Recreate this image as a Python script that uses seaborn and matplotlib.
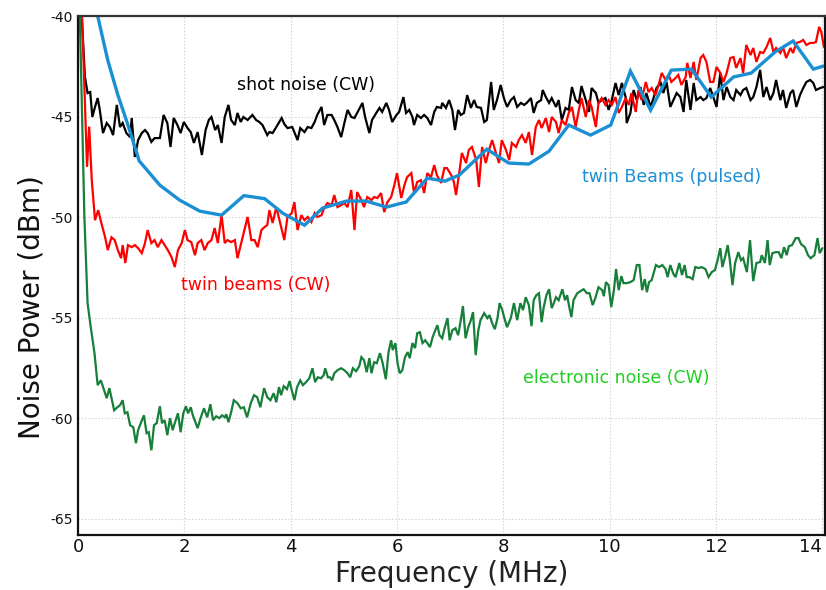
import numpy as np
import pandas as pd
import matplotlib
matplotlib.use("Agg")
import matplotlib.pyplot as plt
import seaborn as sns

# ---------------- data ----------------
shot_x = [0.06, 0.13, 0.18, 0.23, 0.27, 0.32, 0.37, 0.41, 0.47, 0.54, 0.60, 0.66, 0.73, 0.79, 0.84, 0.91, 0.98, 1.01,
          1.07, 1.13, 1.20, 1.26, 1.31, 1.38, 1.44, 1.54, 1.61, 1.68, 1.74, 1.80, 1.87, 1.93, 1.99, 2.06, 2.12, 2.18,
          2.25, 2.33, 2.40, 2.46, 2.51, 2.58, 2.63, 2.70, 2.76, 2.83, 2.88, 2.95, 3.00, 3.06, 3.11, 3.19, 3.28, 3.35,
          3.41, 3.47, 3.56, 3.60, 3.66, 3.73, 3.83, 3.88, 3.94, 4.03, 4.13, 4.18, 4.26, 4.32, 4.39, 4.45, 4.50, 4.58,
          4.63, 4.69, 4.77, 4.82, 4.88, 4.95, 5.01, 5.07, 5.14, 5.20, 5.25, 5.35, 5.40, 5.48, 5.53, 5.61, 5.67, 5.72,
          5.80, 5.85, 5.91, 5.99, 6.04, 6.12, 6.17, 6.23, 6.29, 6.32, 6.38, 6.45, 6.51, 6.57, 6.64, 6.70, 6.75, 6.83,
          6.85, 6.92, 6.98, 7.04, 7.09, 7.15, 7.20, 7.26, 7.32, 7.39, 7.45, 7.50, 7.58, 7.64, 7.69, 7.77, 7.82, 7.88,
          7.95, 8.01, 8.07, 8.14, 8.20, 8.26, 8.33, 8.39, 8.44, 8.52, 8.57, 8.63, 8.71, 8.74, 8.80, 8.86, 8.91, 8.99,
          9.04, 9.10, 9.17, 9.23, 9.29, 9.36, 9.42, 9.47, 9.55, 9.61, 9.66, 9.74, 9.79, 9.85, 9.92, 9.98, 10.04, 10.11,
          10.17, 10.23, 10.30, 10.32, 10.39, 10.45, 10.51, 10.58, 10.64, 10.69, 10.77, 10.83, 10.88, 10.96, 11.01,
          11.07, 11.14, 11.20, 11.26, 11.33, 11.39, 11.44, 11.52, 11.58, 11.63, 11.71, 11.76, 11.82, 11.89, 11.95,
          12.01, 12.08, 12.14, 12.20, 12.27, 12.33, 12.38, 12.46, 12.51, 12.57, 12.65, 12.70, 12.76, 12.83, 12.89,
          12.95, 13.02, 13.08, 13.13, 13.21, 13.26, 13.32, 13.40, 13.45, 13.51, 13.58, 13.64, 13.70, 13.77, 13.83,
          13.88, 13.96, 14.02]
shot_y = [-39.5, -43.03, -43.83, -43.78, -45.02, -44.52, -44.08, -44.67, -45.82, -45.32, -45.52, -45.92, -44.42,
          -45.52, -45.32, -45.82, -46.02, -45.07, -47.01, -46.17, -45.82, -45.67, -45.82, -46.26, -46.07, -46.07,
          -44.92, -45.32, -46.51, -45.07, -45.42, -45.82, -45.27, -45.57, -45.77, -46.31, -45.77, -46.91, -45.67,
          -45.17, -45.02, -45.67, -45.42, -46.31, -45.02, -44.42, -45.17, -45.42, -44.82, -45.27, -45.02, -45.17,
          -44.92, -45.17, -45.27, -45.42, -45.92, -45.77, -45.82, -45.52, -45.07, -45.37, -45.57, -45.52, -46.17,
          -45.57, -45.77, -45.52, -45.57, -45.27, -44.92, -44.52, -45.42, -44.92, -44.92, -45.17, -45.52, -46.02,
          -45.32, -44.67, -45.02, -45.07, -44.82, -44.32, -45.02, -45.82, -45.17, -44.82, -44.57, -44.77, -44.32,
          -44.67, -45.27, -44.92, -44.77, -44.03, -44.82, -44.67, -45.02, -45.42, -44.92, -45.07, -44.92, -45.07,
          -45.42, -44.77, -44.52, -44.57, -44.32, -44.57, -44.18, -44.67, -45.67, -44.67, -44.92, -44.82, -43.93,
          -44.57, -44.18, -44.52, -44.57, -45.27, -45.17, -43.28, -44.67, -44.18, -43.43, -44.08, -44.52, -44.18,
          -44.03, -44.52, -44.32, -44.42, -44.32, -44.08, -44.82, -44.32, -44.18, -43.68, -44.03, -44.32, -44.08,
          -44.52, -44.18, -45.17, -44.57, -44.67, -43.53, -44.18, -44.32, -43.48, -44.18, -44.77, -43.58, -43.83,
          -44.32, -44.18, -44.08, -44.67, -44.18, -43.33, -43.93, -43.33, -44.03, -45.32, -44.82, -43.68, -44.18,
          -43.53, -44.42, -43.83, -44.52, -44.03, -43.58, -43.33, -43.83, -43.28, -44.52, -44.18, -43.83, -44.03,
          -44.77, -43.18, -44.67, -43.33, -44.18, -44.03, -44.18, -44.08, -43.58, -44.03, -44.52, -42.83, -44.18,
          -43.53, -44.03, -44.18, -43.68, -43.93, -43.68, -43.58, -44.18, -44.03, -43.53, -42.68, -44.03, -43.53,
          -44.18, -43.83, -43.18, -44.18, -43.68, -44.57, -43.83, -43.68, -44.52, -43.93, -43.58, -43.28, -43.18,
          -43.33, -43.68, -43.58, -43.53]

twin_x = [0.07, 0.17, 0.21, 0.26, 0.32, 0.38, 0.44, 0.51, 0.56, 0.63, 0.69, 0.75, 0.81, 0.84, 0.89, 0.94, 1.01, 1.07,
          1.13, 1.20, 1.26, 1.31, 1.38, 1.44, 1.50, 1.57, 1.63, 1.69, 1.76, 1.82, 1.88, 1.95, 2.01, 2.06, 2.13, 2.20,
          2.25, 2.32, 2.38, 2.44, 2.51, 2.57, 2.63, 2.70, 2.76, 2.81, 2.88, 2.95, 3.00, 3.07, 3.13, 3.19, 3.26, 3.32,
          3.38, 3.45, 3.51, 3.56, 3.60, 3.66, 3.73, 3.79, 3.88, 3.94, 4.02, 4.07, 4.13, 4.20, 4.26, 4.32, 4.39, 4.45,
          4.50, 4.58, 4.63, 4.69, 4.77, 4.82, 4.88, 4.95, 5.01, 5.07, 5.14, 5.20, 5.25, 5.33, 5.38, 5.44, 5.52, 5.57,
          5.63, 5.70, 5.76, 5.82, 5.89, 5.95, 6.00, 6.08, 6.14, 6.19, 6.27, 6.32, 6.38, 6.45, 6.51, 6.57, 6.64, 6.70,
          6.75, 6.83, 6.89, 6.94, 7.02, 7.07, 7.11, 7.17, 7.22, 7.30, 7.35, 7.41, 7.49, 7.54, 7.60, 7.67, 7.73, 7.79,
          7.86, 7.92, 7.97, 8.05, 8.11, 8.16, 8.24, 8.29, 8.35, 8.42, 8.48, 8.54, 8.61, 8.67, 8.72, 8.80, 8.86, 8.91,
          8.99, 9.04, 9.10, 9.17, 9.23, 9.29, 9.36, 9.42, 9.47, 9.55, 9.61, 9.66, 9.74, 9.79, 9.85, 9.92, 9.98, 10.04,
          10.11, 10.17, 10.23, 10.30, 10.36, 10.41, 10.49, 10.54, 10.60, 10.68, 10.73, 10.79, 10.86, 10.92, 10.98,
          11.05, 11.11, 11.16, 11.24, 11.29, 11.35, 11.43, 11.46, 11.52, 11.58, 11.63, 11.71, 11.76, 11.82, 11.89,
          11.95, 12.01, 12.08, 12.14, 12.20, 12.27, 12.33, 12.38, 12.46, 12.51, 12.57, 12.65, 12.70, 12.76, 12.83,
          12.89, 12.95, 13.02, 13.08, 13.13, 13.21, 13.26, 13.32, 13.40, 13.45, 13.51, 13.58, 13.64, 13.70, 13.77,
          13.83, 13.88, 13.94, 13.98, 14.03]
twin_y = [-39.5, -47.5, -45.5, -48.2, -50.15, -49.65, -50.30, -51.0, -51.64, -51.0, -51.14, -51.64, -52.04, -51.39,
          -52.28, -51.39, -51.49, -51.39, -51.54, -51.79, -51.29, -50.64, -51.29, -51.14, -51.49, -51.14, -51.39,
          -51.64, -51.99, -52.48, -51.64, -51.29, -50.64, -51.14, -51.24, -51.89, -51.29, -51.14, -51.64, -51.29,
          -51.14, -50.54, -51.29, -49.90, -51.29, -51.14, -51.24, -51.14, -52.04, -51.29, -50.64, -49.99, -51.14,
          -51.14, -51.49, -50.64, -50.49, -50.39, -49.65, -50.29, -49.50, -50.15, -51.14, -49.99, -49.80, -49.25,
          -50.64, -49.90, -50.15, -49.99, -50.24, -49.80, -49.99, -49.90, -49.55, -49.30, -49.40, -48.90, -49.50,
          -49.40, -49.30, -49.50, -48.65, -50.64, -48.75, -49.15, -49.50, -49.00, -49.15, -49.00, -49.05, -48.80,
          -49.75, -49.25, -49.00, -48.40, -47.81, -49.05, -48.40, -48.01, -47.81, -48.80, -48.25, -48.16, -48.80,
          -47.81, -48.01, -47.41, -47.91, -48.30, -47.56, -47.56, -47.91, -48.25, -48.90, -47.81, -46.81, -47.31,
          -46.66, -46.51, -47.16, -48.50, -46.51, -47.31, -46.66, -46.17, -46.81, -47.31, -46.17, -46.66, -47.16,
          -46.31, -46.51, -46.17, -45.92, -46.31, -45.77, -46.91, -45.52, -45.17, -45.57, -45.07, -45.77, -45.02,
          -45.27, -45.82, -45.17, -45.42, -44.82, -44.52, -45.52, -44.67, -44.08, -45.02, -44.18, -44.52, -45.52,
          -44.32, -44.08, -44.42, -44.18, -44.42, -44.03, -44.82, -44.52, -44.08, -44.42, -43.83, -44.77, -43.68,
          -44.18, -43.28, -43.78, -43.58, -43.93, -43.43, -42.83, -43.18, -42.93, -43.28, -43.08, -42.93, -43.43,
          -43.03, -42.33, -43.08, -42.28, -43.18, -42.09, -41.94, -42.28, -43.28, -43.28, -42.53, -42.83, -43.28,
          -42.83, -42.09, -42.04, -42.58, -42.09, -42.83, -41.44, -41.94, -41.59, -42.28, -41.79, -41.84, -41.54,
          -41.09, -41.79, -41.59, -41.84, -41.54, -42.09, -41.59, -41.84, -41.34, -41.29, -41.19, -41.44, -41.34,
          -41.34, -41.29, -40.54, -40.79, -41.54]

pulsed_x = [0.37, 0.56, 0.75, 0.94, 1.15, 1.54, 1.91, 2.29, 2.70, 3.12, 3.51, 3.85, 4.26, 4.60, 5.05, 5.42, 5.80,
            6.17, 6.57, 6.90, 7.17, 7.69, 8.10, 8.48, 8.86, 9.23, 9.64, 10.02, 10.39, 10.77, 11.16, 11.54, 11.91,
            12.33, 12.66, 13.11, 13.45, 13.83, 14.02]
pulsed_y = [-40.0, -42.2, -43.93, -45.42, -47.2, -48.41, -49.15, -49.70, -49.90, -48.93, -49.08, -49.80, -50.40,
            -49.55, -49.20, -49.20, -49.50, -49.25, -48.06, -48.21, -47.91, -46.62, -47.31, -47.36, -46.72, -45.42,
            -45.92, -45.42, -42.74, -44.68, -42.69, -42.64, -44.03, -43.03, -42.84, -41.79, -41.24, -42.64, -42.49]

elec_x = [0.03, 0.12, 0.17, 0.18, 0.24, 0.31, 0.37, 0.43, 0.49, 0.54, 0.59, 0.63, 0.68, 0.74, 0.79, 0.84, 0.88,
          0.93, 0.98, 1.04, 1.09, 1.13, 1.18, 1.24, 1.29, 1.33, 1.38, 1.43, 1.48, 1.54, 1.58, 1.63, 1.68, 1.73, 1.78,
          1.82, 1.88, 1.93, 1.98, 2.03, 2.07, 2.12, 2.16, 2.25, 2.31, 2.37, 2.43, 2.49, 2.54, 2.60, 2.66, 2.71, 2.76,
          2.79, 2.83, 2.88, 2.93, 3.00, 3.06, 3.12, 3.18, 3.25, 3.31, 3.37, 3.43, 3.50, 3.56, 3.62, 3.68, 3.73, 3.78,
          3.82, 3.87, 3.93, 3.98, 4.02, 4.07, 4.12, 4.18, 4.23, 4.29, 4.35, 4.41, 4.46, 4.51, 4.57, 4.62, 4.65, 4.70,
          4.74, 4.78, 4.82, 4.88, 4.95, 5.01, 5.07, 5.12, 5.17, 5.23, 5.29, 5.33, 5.38, 5.43, 5.48, 5.52, 5.57, 5.62,
          5.68, 5.73, 5.79, 5.84, 5.89, 5.92, 5.97, 6.01, 6.05, 6.10, 6.15, 6.20, 6.24, 6.29, 6.34, 6.38, 6.43, 6.48,
          6.53, 6.57, 6.62, 6.67, 6.72, 6.76, 6.80, 6.85, 6.90, 6.95, 6.99, 7.04, 7.10, 7.15, 7.20, 7.24, 7.29, 7.34,
          7.39, 7.43, 7.48, 7.53, 7.57, 7.64, 7.70, 7.74, 7.79, 7.84, 7.89, 7.93, 7.98, 8.03, 8.07, 8.14, 8.20, 8.26,
          8.32, 8.37, 8.42, 8.48, 8.53, 8.57, 8.62, 8.67, 8.72, 8.76, 8.81, 8.86, 8.91, 8.95, 8.99, 9.04, 9.11, 9.16,
          9.20, 9.24, 9.28, 9.32, 9.39, 9.45, 9.51, 9.57, 9.62, 9.68, 9.73, 9.79, 9.86, 9.89, 9.93, 9.98, 10.03,
          10.08, 10.12, 10.17, 10.22, 10.26, 10.32, 10.39, 10.45, 10.51, 10.56, 10.61, 10.66, 10.70, 10.74, 10.79,
          10.87, 10.93, 10.99, 11.05, 11.09, 11.14, 11.20, 11.24, 11.31, 11.36, 11.41, 11.45, 11.50, 11.56, 11.61,
          11.67, 11.73, 11.80, 11.86, 11.92, 11.98, 12.03, 12.08, 12.12, 12.17, 12.22, 12.26, 12.31, 12.36, 12.42,
          12.47, 12.51, 12.58, 12.64, 12.70, 12.76, 12.83, 12.86, 12.92, 12.97, 13.01, 13.06, 13.12, 13.18, 13.23,
          13.28, 13.33, 13.37, 13.43, 13.50, 13.55, 13.60, 13.67, 13.73, 13.78, 13.85, 13.91, 13.95, 14.00]
elec_y = [-39.5, -50.0, -53.63, -54.27, -55.47, -56.76, -58.35, -58.11, -58.60, -59.0, -58.50, -59.0, -59.60,
          -59.45, -59.35, -59.10, -59.75, -59.70, -60.34, -60.44, -61.24, -60.59, -60.24, -59.85, -60.74, -60.69,
          -61.59, -60.34, -60.24, -59.40, -60.24, -60.09, -60.84, -59.99, -60.59, -60.24, -59.75, -60.69, -59.75,
          -59.40, -59.75, -59.45, -59.85, -60.49, -59.95, -59.50, -59.95, -59.30, -60.09, -59.90, -59.99, -59.85,
          -59.95, -59.80, -60.19, -59.70, -59.10, -59.25, -59.50, -59.45, -59.95, -59.25, -58.85, -58.95, -59.45,
          -58.50, -58.95, -59.10, -58.75, -59.20, -58.45, -58.85, -58.40, -58.55, -58.15, -58.60, -59.10, -58.45,
          -58.11, -58.35, -58.20, -58.01, -57.51, -58.20, -57.96, -58.01, -57.86, -57.51, -57.96, -57.96, -58.11,
          -57.76, -57.61, -57.51, -57.61, -57.76, -57.96, -57.51, -57.66, -57.41, -56.96, -57.11, -57.71, -57.01,
          -57.76, -57.21, -57.26, -56.76, -57.26, -58.06, -56.71, -56.12, -56.61, -56.26, -57.26, -57.76, -57.61,
          -56.96, -56.71, -57.01, -56.26, -56.51, -55.77, -55.72, -56.26, -56.12, -56.26, -56.46, -55.97, -55.62,
          -55.37, -55.87, -56.02, -55.47, -55.02, -56.12, -55.62, -55.52, -55.87, -55.12, -54.42, -56.02, -55.47,
          -55.12, -54.72, -56.86, -55.62, -55.12, -54.77, -55.02, -54.87, -55.27, -55.57, -55.02, -54.27, -54.62,
          -55.12, -55.47, -55.02, -54.27, -55.12, -54.27, -54.62, -53.98, -54.37, -55.42, -54.13, -53.88, -53.78,
          -55.22, -54.47, -53.88, -53.58, -54.52, -54.27, -53.98, -54.13, -53.58, -54.13, -53.88, -54.47, -54.97,
          -54.13, -53.78, -53.68, -53.58, -53.78, -53.78, -54.37, -54.03, -53.48, -53.63, -53.93, -53.23, -53.38,
          -54.47, -53.63, -52.58, -53.63, -52.93, -53.28, -53.28, -53.23, -53.13, -52.38, -52.38, -53.63, -53.08,
          -53.73, -53.23, -53.13, -52.38, -52.48, -52.38, -52.58, -52.98, -52.38, -52.83, -52.98, -52.28, -52.88,
          -52.38, -52.98, -52.98, -53.08, -52.48, -52.53, -52.48, -52.58, -52.98, -52.73, -52.63, -52.14, -51.54,
          -52.48, -51.99, -51.39, -52.14, -53.38, -52.28, -51.74, -52.14, -52.04, -52.73, -51.14, -53.18, -52.28,
          -52.23, -51.89, -52.28, -51.14, -52.38, -51.79, -51.74, -51.74, -52.04, -51.49, -51.89, -51.44, -51.39,
          -51.04, -51.04, -51.34, -51.49, -51.89, -52.04, -51.89, -51.04, -51.79, -51.54]

labels = ["shot noise (CW)", "twin beams (CW)", "twin Beams (pulsed)", "electronic noise (CW)"]
label_x = [4.28, 3.34, 11.16, 10.13]
label_y = [-43.43, -53.38, -48.0, -58.0]

x_ticks = [0, 2, 4, 6, 8, 10, 12, 14]
y_ticks = [-65, -60, -55, -50, -45, -40]
x_title = "Frequency (MHz)"
y_title = "Noise Power (dBm)"

# ---------------- plot ----------------
sns.set_style("white")
plt.rcParams["font.family"] = ["DejaVu Sans"]
plt.rcParams["axes.unicode_minus"] = False

fig = plt.figure(figsize=(8.26, 5.90), dpi=100)
ax = fig.add_axes([78 / 826, 55 / 590, 747 / 826, 519 / 590])

c_black = "#000000"
c_red = "#ff0000"
c_green = "#177f3a"
c_blue = "#1a8fd3"
c_green_txt = "#1fcf1f"

series = [
    (shot_x, shot_y, c_black, 1.6),
    (twin_x, twin_y, c_red, 1.6),
    (elec_x, elec_y, c_green, 1.6),
    (pulsed_x, pulsed_y, c_blue, 2.4),
]
for xs, ys, col, lw in series:
    df = pd.DataFrame({"f": xs, "p": ys})
    sns.lineplot(data=df, x="f", y="p", ax=ax, color=col, linewidth=lw,
                 estimator=None, sort=False, solid_joinstyle="miter")

ax.set_xlim(0, 14.05)
ax.set_ylim(-65.8, -40)
ax.set_xticks(x_ticks)
ax.set_yticks(y_ticks)
ax.set_xticklabels([str(v) for v in x_ticks])
ax.set_yticklabels([str(v) for v in y_ticks])

ax.grid(True, color="#cfcfcf", linestyle=(0, (1.2, 1.8)), linewidth=0.8)
ax.set_axisbelow(True)

for side in ["left", "bottom", "right", "top"]:
    ax.spines[side].set_visible(True)
    ax.spines[side].set_color("#111111")
    ax.spines[side].set_linewidth(1.6)
ax.spines["top"].set_color("#333333")

ax.tick_params(axis="x", direction="in", length=8, width=1.4, labelsize=13, pad=2, colors="#111111")
ax.tick_params(axis="y", direction="in", length=8, width=1.4, labelsize=10, pad=4, colors="#111111")

# keep the last x tick label ("14") inside the figure, as in the reference
last_lbl = ax.get_xticklabels()[-1]
last_lbl.set_horizontalalignment("right")

ax.set_xlabel(x_title, fontsize=20, color="#222222", va="center")
ax.xaxis.set_label_coords(0.5, -0.076)
ax.set_ylabel(y_title, fontsize=20, color="#111111", va="center")
ax.yaxis.set_label_coords(-0.062, 0.44)

txt_colors = [c_black, c_red, c_blue, c_green_txt]
for t, tx, ty, tc in zip(labels, label_x, label_y, txt_colors):
    ax.text(tx, ty, t, color=tc, fontsize=12.5, ha="center", va="center")

fig.savefig("out.png", dpi=100)
